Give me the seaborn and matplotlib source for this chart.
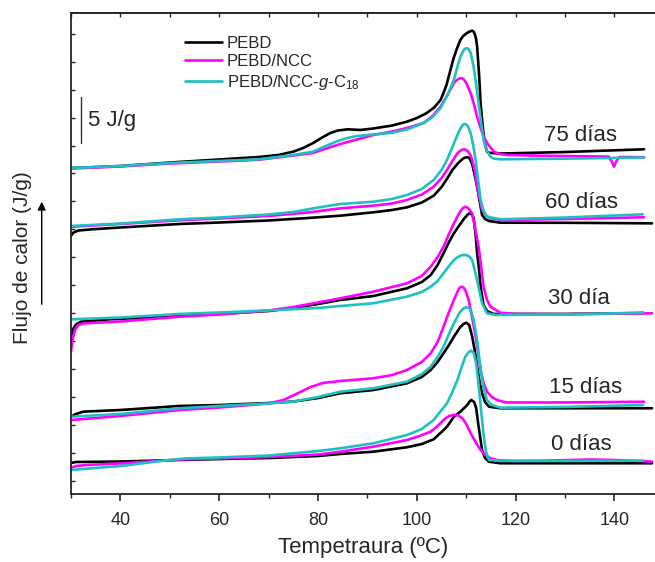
import numpy as np
import pandas as pd
import matplotlib
matplotlib.use("Agg")
import matplotlib.pyplot as plt
from matplotlib.lines import Line2D
import seaborn as sns

# ---------------- data (temperature in ºC, heat flow in J/g incl. vertical offset) ----------------
series_names = ["PEBD", "PEBD/NCC", r"PEBD/NCC-$\it{g}$-C$_{18}$"]
series_colors = ["#000000", "#FF00FF", "#1EC0C0"]
group_labels = ["75 días", "60 días", "30 día", "15 días", "0 días"]
label_pos_t = [133.1, 133.3, 132.9, 134.1, 133.3]
label_pos_q = [39.0, 31.7, 21.2, 11.6, 5.4]

# ---- 75 días
t_pebd_75 = [30, 40, 50, 60, 68, 72, 75, 77, 79, 81, 82.5, 84, 86, 88.6, 91.2, 95, 98, 100, 102, 103.5, 104.8, 105.4, 106, 106.8, 107.4, 108, 108.8, 109.4, 110, 110.6, 111.2, 111.5, 111.8, 112.0, 112.2, 112.6, 112.9, 113.4, 113.8, 114.2, 114.6, 115, 117, 130, 146]
q_pebd_75 = [35.43, 35.65, 36.03, 36.36, 36.63, 36.85, 37.21, 37.61, 38.15, 38.80, 39.24, 39.51, 39.64, 39.57, 39.73, 40.05, 40.47, 40.87, 41.41, 42.01, 42.83, 43.60, 44.46, 46.09, 47.30, 48.26, 49.35, 49.80, 50.05, 50.25, 50.36, 50.25, 49.89, 49.40, 48.62, 45.54, 42.50, 39.57, 38.00, 37.21, 37.10, 37.07, 37.01, 37.17, 37.47]
t_ncc_75 = [30, 40, 50, 60, 68, 75, 79, 82, 84.5, 87.5, 91.2, 95, 98, 101.4, 103.2, 104.8, 106.2, 107.5, 108.0, 108.4, 108.8, 109.2, 109.6, 110, 110.9, 111.6, 112.2, 112.9, 113.5, 114.5, 115.6, 116.8, 118.3, 125, 138.8, 139.5, 139.9, 140.4, 141, 146]
q_ncc_75 = [35.38, 35.60, 35.92, 36.14, 36.33, 36.79, 37.07, 37.61, 38.04, 38.48, 39.02, 39.40, 39.78, 40.33, 41.09, 42.10, 43.37, 44.67, 44.95, 45.11, 45.20, 45.18, 45.00, 44.67, 43.55, 42.28, 41.01, 39.78, 38.84, 37.93, 37.21, 36.95, 36.85, 36.77, 36.68, 36.09, 35.58, 36.20, 36.63, 36.60]
t_c18_75 = [30, 40, 50, 60, 68, 75, 79, 82, 84, 86, 87.9, 91, 94.7, 98, 101.4, 103.2, 104.8, 106.2, 107.5, 108.3, 108.8, 109.5, 109.85, 110.2, 110.55, 110.9, 111.5, 112, 112.5, 113, 113.5, 114.2, 114.9, 115.6, 116.9, 130, 146]
q_c18_75 = [35.43, 35.65, 35.98, 36.20, 36.38, 36.85, 37.21, 37.93, 38.37, 38.70, 38.91, 39.08, 39.24, 39.62, 40.33, 40.98, 41.96, 43.37, 45.00, 46.63, 47.53, 48.26, 48.42, 48.45, 48.30, 47.93, 46.44, 44.46, 42.47, 40.43, 38.48, 37.28, 36.66, 36.45, 36.38, 36.45, 36.58]

# ---- 60 días
t_pebd_60 = [30, 30.5, 31.5, 35, 40, 52, 60, 70, 78, 84.5, 91.2, 95, 98, 101, 103.4, 105, 106.1, 107.2, 108.2, 109, 109.5, 110, 110.35, 110.7, 111.2, 111.7, 112.2, 112.7, 113.2, 113.8, 114.6, 116.9, 130, 147.6]
q_pebd_60 = [28.08, 28.42, 28.64, 28.80, 28.97, 29.35, 29.51, 29.73, 30.00, 30.25, 30.62, 30.87, 31.16, 31.68, 32.42, 33.37, 34.26, 35.22, 35.87, 36.30, 36.50, 36.60, 36.60, 36.47, 35.87, 34.67, 33.40, 31.85, 30.33, 29.89, 29.67, 29.49, 29.48, 29.42]
t_ncc_60 = [30, 31, 40, 52, 60, 70, 78, 84.5, 91.2, 95, 98, 101, 103.4, 105, 106.1, 107.2, 108.2, 109, 109.6, 110.3, 110.9, 111.2, 111.7, 112.2, 113.2, 114, 114.9, 117, 130, 146]
q_ncc_60 = [29.02, 29.08, 29.35, 29.75, 29.95, 30.22, 30.60, 31.05, 31.34, 31.58, 31.96, 32.55, 33.40, 34.35, 35.22, 36.20, 37.03, 37.39, 37.47, 37.28, 36.79, 36.30, 35.20, 33.40, 30.87, 30.27, 29.97, 29.78, 29.89, 30.08]
t_c18_60 = [30, 40, 52, 60, 70, 75, 80, 84.5, 91.2, 95, 98, 101, 103.4, 105, 106.1, 107.2, 108.2, 108.6, 109, 109.3, 109.6, 110.0, 110.3, 110.9, 111.4, 111.9, 112.4, 112.9, 113.5, 114.2, 116.9, 130, 145.7]
q_c18_60 = [29.13, 29.40, 29.86, 30.05, 30.38, 30.65, 31.14, 31.52, 31.77, 32.07, 32.50, 33.15, 34.13, 35.22, 36.30, 37.72, 39.02, 39.50, 39.89, 40.10, 40.22, 40.17, 40.00, 39.21, 37.93, 36.30, 34.13, 31.96, 30.76, 30.14, 29.86, 30.05, 30.40]

# ---- 30 día
t_pebd_30 = [30, 30.3, 31, 32, 38, 52, 60, 70, 75, 80, 84.5, 91.2, 98, 101, 102.8, 104.2, 105.4, 106.5, 107.5, 108.5, 109.5, 110.3, 110.9, 111.5, 111.9, 112.2, 112.6, 112.9, 113.5, 114.2, 115.5, 130, 146]
q_pebd_30 = [17.10, 17.83, 18.42, 18.73, 18.99, 19.35, 19.57, 19.89, 20.22, 20.65, 21.09, 21.52, 22.36, 23.04, 23.80, 24.89, 26.16, 27.39, 28.34, 29.13, 29.89, 30.38, 30.58, 30.00, 28.15, 26.16, 24.35, 22.53, 20.54, 19.89, 19.57, 19.57, 19.67]
t_ncc_30 = [30, 30.3, 30.8, 31.5, 32.6, 40, 52, 60, 70, 75, 80, 84.5, 91.2, 98, 101, 102.8, 104.2, 105.4, 106.5, 107.5, 108.6, 109.2, 109.8, 110.5, 111.2, 111.8, 112.5, 113, 113.5, 114.2, 114.9, 116.9, 120, 130, 147.6]
q_ncc_30 = [15.47, 16.74, 17.83, 18.37, 18.55, 18.75, 19.27, 19.51, 19.95, 20.33, 20.82, 21.27, 21.99, 22.90, 23.70, 24.71, 25.76, 26.88, 28.26, 29.42, 30.54, 31.03, 31.23, 31.03, 30.51, 28.91, 26.88, 24.78, 22.53, 21.09, 20.36, 19.71, 19.57, 19.54, 19.64]
t_c18_30 = [30, 40, 52, 60, 70, 80, 84.5, 91.2, 98, 101, 102.8, 104.2, 105.4, 106.5, 107.5, 108.6, 109.1, 109.6, 110.1, 110.6, 111.2, 112.2, 112.7, 113.2, 114.2, 116, 130, 145.8]
q_c18_30 = [18.99, 19.18, 19.57, 19.73, 19.95, 20.22, 20.43, 20.73, 21.45, 21.96, 22.53, 23.15, 23.99, 24.78, 25.43, 25.87, 25.95, 25.98, 25.96, 25.82, 25.43, 23.26, 21.96, 20.73, 19.64, 19.46, 19.51, 19.71]

# ---- 15 días
t_pebd_15 = [30, 31, 32.5, 40, 52, 60, 70, 75, 80, 84.5, 91.2, 98, 101, 102.8, 104.2, 105.4, 106.5, 107.5, 108.8, 109.5, 110, 110.6, 111.2, 111.7, 112.2, 112.7, 113.2, 113.8, 114.6, 116.9, 130, 147.6]
q_pebd_15 = [8.40, 8.70, 8.95, 9.13, 9.57, 9.67, 9.89, 10.05, 10.43, 10.95, 11.30, 12.03, 12.72, 13.48, 14.35, 15.29, 16.20, 17.10, 18.15, 18.50, 18.62, 18.37, 17.10, 15.65, 13.84, 12.17, 10.95, 10.00, 9.49, 9.32, 9.32, 9.32]
t_ncc_15 = [30, 40, 52, 60, 70, 73, 76, 78.5, 81, 84.5, 91.2, 95, 98, 101, 102.8, 104.2, 105.4, 106.5, 107.5, 108.3, 108.65, 109, 109.4, 109.8, 110.5, 111.2, 111.9, 112.4, 112.9, 113.5, 114.2, 115.2, 116.2, 118, 130, 146]
q_ncc_15 = [8.04, 8.48, 9.13, 9.40, 9.84, 10.22, 10.98, 11.63, 12.07, 12.28, 12.58, 12.93, 13.48, 14.35, 15.29, 16.52, 18.18, 19.78, 21.09, 22.07, 22.40, 22.53, 22.45, 22.17, 21.09, 19.13, 17.10, 15.33, 13.48, 12.07, 11.12, 10.54, 10.22, 9.95, 9.95, 10.03]
t_c18_15 = [30, 40, 52, 60, 70, 75, 80, 84.5, 91.2, 98, 101, 102.8, 104.2, 105.4, 106.5, 107.5, 108.6, 109.4, 109.8, 110.2, 110.55, 110.9, 111.5, 112.1, 112.5, 113, 113.5, 114.2, 115.2, 116.9, 130, 145.8]
q_c18_15 = [8.40, 8.70, 9.32, 9.57, 9.84, 10.05, 10.54, 11.12, 11.49, 12.21, 13.04, 13.84, 14.89, 16.01, 17.39, 18.55, 19.67, 20.16, 20.27, 20.29, 20.20, 20.00, 18.91, 17.07, 15.29, 13.26, 11.52, 10.22, 9.67, 9.38, 9.46, 9.67]

# ---- 0 días
t_pebd_0 = [30, 31, 40, 52, 60, 70, 80, 84.5, 91.2, 98, 101, 103.4, 105, 106.1, 107.5, 108.8, 110.2, 110.6, 111, 111.6, 112, 112.5, 113.2, 113.8, 114.6, 116.9, 130, 147.6]
q_pebd_0 = [3.37, 3.48, 3.53, 3.70, 3.80, 3.91, 4.13, 4.35, 4.60, 5.08, 5.43, 5.95, 6.74, 7.32, 8.40, 8.95, 9.67, 10.00, 10.22, 10.00, 9.35, 7.32, 4.78, 3.91, 3.51, 3.34, 3.34, 3.34]
t_ncc_0 = [30, 31, 33, 40, 52, 60, 70, 80, 84.5, 91.2, 98, 100.5, 102.8, 104.2, 105.4, 106.5, 107.5, 108.4, 109.2, 110, 110.9, 112, 112.9, 113.9, 114.9, 116.5, 120, 125, 135, 140, 147.6]
q_ncc_0 = [2.83, 3.04, 3.15, 3.32, 3.75, 3.86, 4.02, 4.29, 4.60, 5.14, 5.87, 6.30, 6.77, 7.39, 8.04, 8.48, 8.59, 8.53, 8.23, 7.61, 6.60, 5.54, 4.78, 4.24, 3.88, 3.66, 3.59, 3.61, 3.75, 3.70, 3.53]
t_c18_0 = [30, 35, 40, 45, 50, 53, 60, 70, 80, 84.5, 91.2, 98, 101, 103.4, 105, 106.1, 107.2, 108.2, 109, 109.8, 110.5, 111, 111.5, 112, 112.5, 113, 113.5, 114, 114.6, 117, 130, 145.8]
q_c18_0 = [2.61, 2.83, 3.04, 3.37, 3.70, 3.86, 3.97, 4.18, 4.67, 4.97, 5.51, 6.41, 7.07, 8.04, 9.13, 9.86, 11.09, 12.39, 13.70, 14.92, 15.43, 15.58, 15.33, 14.21, 11.85, 9.13, 6.41, 4.57, 3.70, 3.59, 3.59, 3.62]

curves = [
    (t_pebd_75, q_pebd_75, 0), (t_ncc_75, q_ncc_75, 1), (t_c18_75, q_c18_75, 2),
    (t_pebd_60, q_pebd_60, 0), (t_ncc_60, q_ncc_60, 1), (t_c18_60, q_c18_60, 2),
    (t_pebd_30, q_pebd_30, 0), (t_ncc_30, q_ncc_30, 1), (t_c18_30, q_c18_30, 2),
    (t_pebd_15, q_pebd_15, 0), (t_ncc_15, q_ncc_15, 1), (t_c18_15, q_c18_15, 2),
    (t_pebd_0, q_pebd_0, 0), (t_ncc_0, q_ncc_0, 1), (t_c18_0, q_c18_0, 2),
]

# ---------------- style ----------------
sns.set_theme(style="ticks")
plt.rcParams["font.family"] = ["Liberation Sans", "DejaVu Sans"]
plt.rcParams["mathtext.fontset"] = "custom"
plt.rcParams["mathtext.rm"] = "Liberation Sans"
plt.rcParams["mathtext.it"] = "Liberation Sans:italic"
plt.rcParams["axes.linewidth"] = 1.3

W, H = 655, 562
fig = plt.figure(figsize=(W / 100, H / 100), dpi=100)
ax = fig.add_axes([71 / W, 1 - 494 / H, (W - 71) / W, (494 - 13) / H])

lw = 1.9
for t, q, s in curves:
    sns.lineplot(x=t, y=q, ax=ax, color=series_colors[s], lw=lw, sort=False,
                 estimator=None, legend=False)

ax.set_xlim(30, 148.2)
ax.set_ylim(0, 481 / 9.2)

major_x = [40, 60, 80, 100, 120, 140]
minor_x = list(np.arange(30, 150, 10))
ax.set_xticks(major_x)
ax.set_xticks(minor_x, minor=True)
ax.tick_params(axis="x", which="major", direction="out", length=5, width=1.2,
               labelsize=13, pad=8)
ax.tick_params(axis="x", which="minor", direction="out", length=3, width=1.0)
ax.set_yticks(np.arange(1.4, 52, 3.04))
ax.tick_params(axis="y", which="major", direction="in", length=3, width=1.0,
               labelleft=False)
ax.spines["right"].set_visible(False)

top = ax.secondary_xaxis("top")
top.set_xticks(major_x)
top.set_xticks(minor_x, minor=True)
top.tick_params(axis="x", which="both", direction="in", length=3, width=1.0,
                labeltop=False)
top.spines["top"].set_linewidth(1.3)

ax.set_xlabel("Tempetraura (ºC)", fontsize=16, labelpad=6)
ax.set_ylabel("")

# Y label with arrow
fig.text(23 / W, 1 - 258 / H, "Flujo de calor (J/g)", rotation=90, fontsize=15,
         ha="center", va="center")
fig.add_artist(matplotlib.patches.FancyArrowPatch(
    (41.7 / W, 1 - 307 / H), (41.7 / W, 1 - 199 / H), transform=fig.transFigure,
    arrowstyle="-|>", mutation_scale=12, lw=1.0, color="black"))

# scale bar
ax.plot([32.1, 32.1], [38.15, 43.15], color="#333333", lw=1.0)
ax.text(33.5, 40.65, "5 J/g", fontsize=16, ha="left", va="center")

# group labels
for lab, tx, qy in zip(group_labels, label_pos_t, label_pos_q):
    ax.text(tx, qy, lab, fontsize=16, ha="center", va="center")

# legend
handles = [Line2D([0], [0], color=c, lw=lw) for c in series_colors]
ax.legend(handles, series_names, loc="upper left", bbox_to_anchor=(0.195, 0.953),
          frameon=False, borderaxespad=0, borderpad=0, handlelength=2.2,
          handletextpad=0.3, labelspacing=0.22, fontsize=12)

fig.savefig("out.png", dpi=100)
